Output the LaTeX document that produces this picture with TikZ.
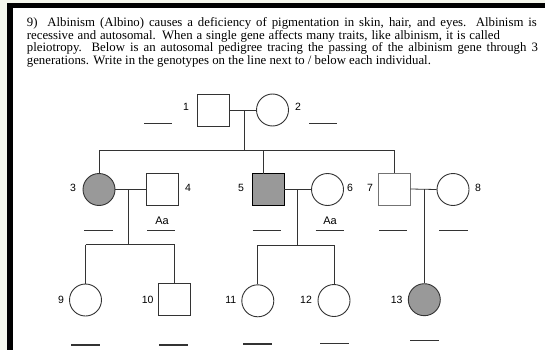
\documentclass[tikz,border=0pt]{standalone}
\usepackage{fontspec}
\setmainfont{Liberation Serif}
\newfontfamily\labelfont{Liberation Sans}
\definecolor{paper}{HTML}{F4F6EC}
\definecolor{ink}{HTML}{333333}
\definecolor{affected}{HTML}{999999}
% one line of the question, spread to a given width
\newcommand\qrow[2]{\hbox to #1{\spaceskip=0.25em plus 1fil\relax #2}}
\begin{document}
\begin{tikzpicture}[x=1pt,y=-1pt,
  male/.style={draw=ink,line width=0.9pt,minimum size=32pt,inner sep=0pt,rectangle},
  female/.style={draw=ink,line width=0.9pt,minimum size=32pt,inner sep=0pt,circle},
  aff/.style={fill=affected},
  tag/.style={font=\labelfont\fontsize{10.5}{11}\selectfont,inner sep=0pt},
  geno/.style={font=\labelfont\fontsize{11}{12}\selectfont,inner sep=0pt},
  link/.style={draw=ink,line width=0.8pt},
  blank/.style={draw=ink,line width=1.1pt},
  para/.style={anchor=base west,inner sep=0pt,font=\fontsize{12.8}{13}\selectfont}]
\useasboundingbox (0,0) rectangle (545,350);
% page edge and frame bars
\fill[paper] (0,0) rectangle (545,350);
\fill[white] (12.7,8.3) rectangle (545,350);
\fill[black] (7.3,3.3) rectangle (545,8.3);
\fill[black] (7.3,3.3) rectangle (12.7,350);

% question text
\node[para] (q1) at (26.7,26.7) {\qrow{510pt}{9)\ \ Albinism (Albino) causes a deficiency of pigmentation in skin, hair, and eyes. Albinism is}};
\node[para] (q2) at (26.7,39.2) {\qrow{473pt}{recessive and autosomal. When a single gene affects many traits, like albinism, it is called}};
\node[para] (q3) at (26.7,51.7) {\qrow{511pt}{pleiotropy. Below is an autosomal pedigree tracing the passing of the albinism gene through 3}};
\node[para] (q4) at (26.7,64.2) {\qrow{404pt}{generations. Write in the genotypes on the line next to / below each individual.}};

% generation I
\node[male] (p1) at (213,110) {};
\node[female] (p2) at (272.5,110) {};
\node[tag] (t1) at (186,107) {1};
\node[tag] (t2) at (298,107) {2};

% generation II
\node[female,aff] (p3) at (99,189.5) {};
\node[male] (p4) at (162,189.5) {};
\node[male,aff,draw=black] (p5) at (268,189.5) {};
\node[female] (p6) at (327.5,189.5) {};
\node[male,draw=black!55] (p7) at (394,189) {};
\node[female] (p8) at (453,189.5) {};
\node[tag] (t3) at (73,188) {3};
\node[tag] (t4) at (188,188) {4};
\node[tag] (t5) at (241,188) {5};
\node[tag] (t6) at (350,188) {6};
\node[tag] (t7) at (370,188) {7};
\node[tag] (t8) at (478,188) {8};
\node[geno] (g4) at (162,221) {Aa};
\node[geno] (g6) at (330,221) {Aa};

% generation III
\node[female] (p9) at (85.5,300) {};
\node[male] (p10) at (174.5,299.7) {};
\node[female] (p11) at (257.8,300.8) {};
\node[female] (p12) at (334,300.5) {};
\node[female,aff] (p13) at (424.3,299.7) {};
\node[tag] (t9) at (61,300) {9};
\node[tag] (t10) at (147.7,300) {10};
\node[tag] (t11) at (230.7,300) {11};
\node[tag] (t12) at (306,300) {12};
\node[tag] (t13) at (396.7,300) {13};

% mating and descent lines
\coordinate (m12) at (244,110);
\coordinate (s12) at (244,150);
\draw[link] (p1.east) -- (p2.west);
\draw[link] (m12) -- (s12);
\draw[link] (p3.north |- s12) -- (p7.north |- s12);
\draw[link] (p3.north |- s12) -- (p3.north);
\draw[link] (263,150) -- (263,173.5);
\draw[link] (p7.north |- s12) -- (p7.north);

\coordinate (m34) at (128,189.5);
\coordinate (s34) at (128,244.5);
\draw[link] (p3.east) -- (p4.west);
\draw[link] (m34) -- (s34);
\draw[link] (p9.north |- s34) -- (p10.north |- s34);
\draw[link] (p9.north |- s34) -- (p9.north);
\draw[link] (p10.north |- s34) -- (p10.north);

\coordinate (m56) at (297.7,189.5);
\coordinate (s56) at (297.7,245);
\draw[link] (p5.east) -- (p6.west);
\draw[link] (m56) -- (s56);
\draw[link] (p11.north |- s56) -- (p12.north |- s56);
\draw[link] (p11.north |- s56) -- (p11.north);
\draw[link] (p12.north |- s56) -- (p12.north);

\coordinate (m78) at (424.3,189);
\draw[link] (p7.east) -- (p8.west);
\draw[link] (m78) -- (p13.north);

% answer lines
\foreach \a/\b/\y in {144.3/172.3/123.3, 309/337.3/123.3,
    84/113/230.7, 147/175/230.7, 252.7/281.3/230.7, 315.7/344/230.7, 379/407.3/230.7, 439.3/468.3/230.7,
    71/100/345, 159.3/188.3/345, 243.3/272.3/344, 320/349/343.3, 410/439/340.7}
  \draw[blank] (\a,\y) -- (\b,\y);
\end{tikzpicture}
\end{document}
